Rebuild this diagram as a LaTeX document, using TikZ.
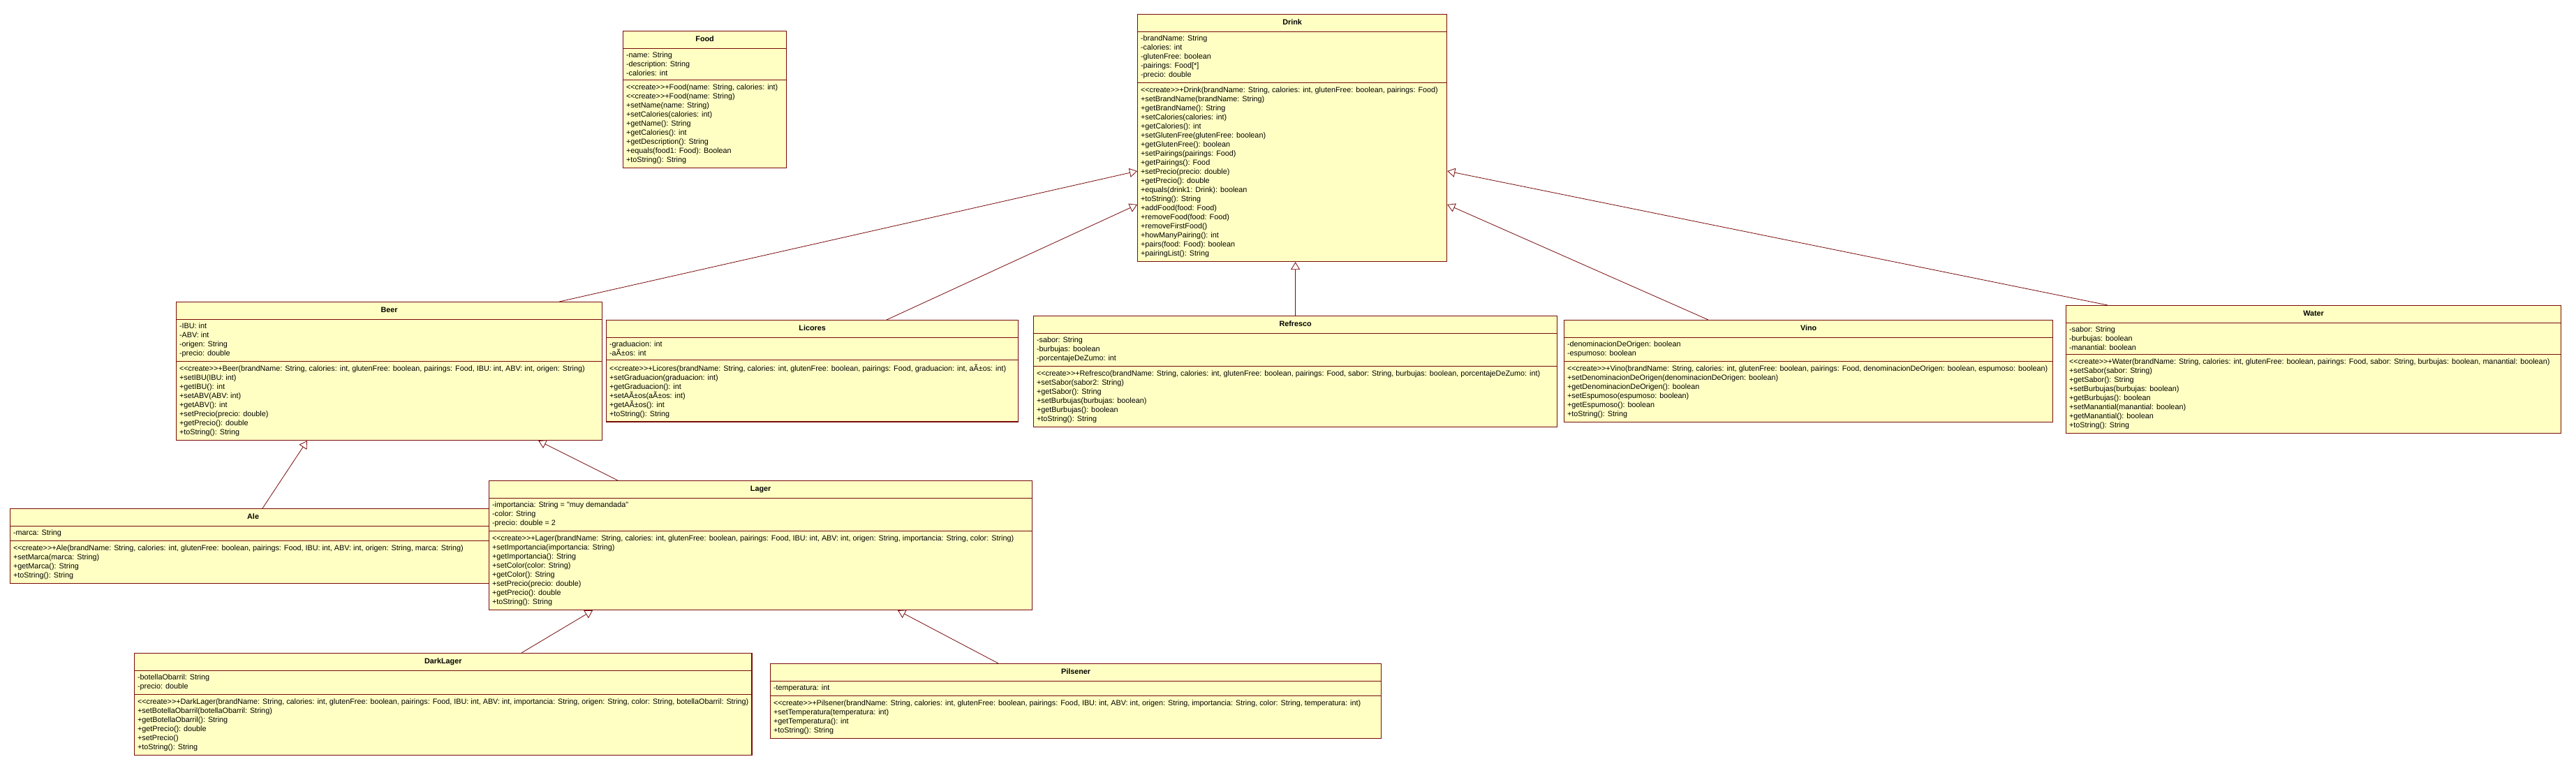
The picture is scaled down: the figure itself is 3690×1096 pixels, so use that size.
\documentclass[tikz,border=0pt]{standalone}
\usepackage{fontspec}
\setmainfont{Liberation Sans}[Ligatures=TeXOff]
\usetikzlibrary{shapes.multipart,arrows.meta}
\definecolor{umlfill}{RGB}{255,255,196}
\definecolor{umlline}{RGB}{120,10,10}
\newcommand{\umlcreate}{<{}<create>{}>}

\begin{document}
\begin{tikzpicture}[x=1pt, y=-1pt,
        cls/.style={rectangle split, rectangle split parts=3, rectangle split part align={center,left,left}, draw=umlline, line width=1.2pt, fill=umlfill, anchor=north west, align=left, inner xsep=4.5pt, inner ysep=5.2pt, font=\fontsize{10.8}{13}\selectfont},
        inherit/.style={draw=umlline, line width=0.8pt, -{Triangle[open, fill=white, length=11pt, width=13pt]}}
      ]
        \useasboundingbox (0,0) rectangle (3690,1096);

        \node[cls, minimum width=234pt] at (892,44) (food) {\strut\textbf{Food}
          \nodepart{two} -name: String\\-description: String\\-calories: int
          \nodepart{three} \umlcreate+Food(name: String, calories: int)\\\umlcreate+Food(name: String)\\+setName(name: String)\\+setCalories(calories: int)\\+getName(): String\\+getCalories(): int\\+getDescription(): String\\+equals(food1: Food): Boolean\\+toString(): String};

        \node[cls, minimum width=443pt] at (1629,20) (drink) {\strut\textbf{Drink}
          \nodepart{two} -brandName: String\\-calories: int\\-glutenFree: boolean\\-pairings: Food[*]\\-precio: double
          \nodepart{three} \umlcreate+Drink(brandName: String, calories: int, glutenFree: boolean, pairings: Food)\\+setBrandName(brandName: String)\\+getBrandName(): String\\+setCalories(calories: int)\\+getCalories(): int\\+setGlutenFree(glutenFree: boolean)\\+getGlutenFree(): boolean\\+setPairings(pairings: Food)\\+getPairings(): Food\\+setPrecio(precio: double)\\+getPrecio(): double\\+equals(drink1: Drink): boolean\\+toString(): String\\+addFood(food: Food)\\+removeFood(food: Food)\\+removeFirstFood()\\+howManyPairing(): int\\+pairs(food: Food): boolean\\+pairingList(): String};

        \node[cls, minimum width=610pt] at (252,432) (beer) {\strut\textbf{Beer}
          \nodepart{two} -IBU: int\\-ABV: int\\-origen: String\\-precio: double
          \nodepart{three} \umlcreate+Beer(brandName: String, calories: int, glutenFree: boolean, pairings: Food, IBU: int, ABV: int, origen: String)\\+setIBU(IBU: int)\\+getIBU(): int\\+setABV(ABV: int)\\+getABV(): int\\+setPrecio(precio: double)\\+getPrecio(): double\\+toString(): String};

        \node[cls, minimum width=590pt] at (868,458) (licores) {\strut\textbf{Licores}
          \nodepart{two} -graduacion: int\\-aÃ±os: int
          \nodepart{three} \umlcreate+Licores(brandName: String, calories: int, glutenFree: boolean, pairings: Food, graduacion: int, aÃ±os: int)\\+setGraduacion(graduacion: int)\\+getGraduacion(): int\\+setAÃ±os(aÃ±os: int)\\+getAÃ±os(): int\\+toString(): String};

        \node[cls, minimum width=750pt] at (1480,452) (refresco) {\strut\textbf{Refresco}
          \nodepart{two} -sabor: String\\-burbujas: boolean\\-porcentajeDeZumo: int
          \nodepart{three} \umlcreate+Refresco(brandName: String, calories: int, glutenFree: boolean, pairings: Food, sabor: String, burbujas: boolean, porcentajeDeZumo: int)\\+setSabor(sabor2: String)\\+getSabor(): String\\+setBurbujas(burbujas: boolean)\\+getBurbujas(): boolean\\+toString(): String};

        \node[cls, minimum width=700pt] at (2240,458) (vino) {\strut\textbf{Vino}
          \nodepart{two} -denominacionDeOrigen: boolean\\-espumoso: boolean
          \nodepart{three} \umlcreate+Vino(brandName: String, calories: int, glutenFree: boolean, pairings: Food, denominacionDeOrigen: boolean, espumoso: boolean)\\+setDenominacionDeOrigen(denominacionDeOrigen: boolean)\\+getDenominacionDeOrigen(): boolean\\+setEspumoso(espumoso: boolean)\\+getEspumoso(): boolean\\+toString(): String};

        \node[cls, minimum width=709pt] at (2959,437) (water) {\strut\textbf{Water}
          \nodepart{two} -sabor: String\\-burbujas: boolean\\-manantial: boolean
          \nodepart{three} \umlcreate+Water(brandName: String, calories: int, glutenFree: boolean, pairings: Food, sabor: String, burbujas: boolean, manantial: boolean)\\+setSabor(sabor: String)\\+getSabor(): String\\+setBurbujas(burbujas: boolean)\\+getBurbujas(): boolean\\+setManantial(manantial: boolean)\\+getManantial(): boolean\\+toString(): String};

        \node[cls, minimum width=696pt] at (14,728) (ale) {\strut\textbf{Ale}
          \nodepart{two} -marca: String
          \nodepart{three} \umlcreate+Ale(brandName: String, calories: int, glutenFree: boolean, pairings: Food, IBU: int, ABV: int, origen: String, marca: String)\\+setMarca(marca: String)\\+getMarca(): String\\+toString(): String};

        \node[cls, minimum width=778pt] at (700,688) (lager) {\strut\textbf{Lager}
          \nodepart{two} -importancia: String = "muy demandada"\\-color: String\\-precio: double = 2
          \nodepart{three} \umlcreate+Lager(brandName: String, calories: int, glutenFree: boolean, pairings: Food, IBU: int, ABV: int, origen: String, importancia: String, color: String)\\+setImportancia(importancia: String)\\+getImportancia(): String\\+setColor(color: String)\\+getColor(): String\\+setPrecio(precio: double)\\+getPrecio(): double\\+toString(): String};

        \node[cls, minimum width=869pt] at (192,935) (darklager) {\strut\textbf{DarkLager}
          \nodepart{two} -botellaObarril: String\\-precio: double
          \nodepart{three} \umlcreate+DarkLager(brandName: String, calories: int, glutenFree: boolean, pairings: Food, IBU: int, ABV: int, importancia: String, origen: String, color: String, botellaObarril: String)\\+setBotellaObarril(botellaObarril: String)\\+getBotellaObarril(): String\\+getPrecio(): double\\+setPrecio()\\+toString(): String};

        \node[cls, minimum width=875pt] at (1103,950) (pilsener) {\strut\textbf{Pilsener}
          \nodepart{two} -temperatura: int
          \nodepart{three} \umlcreate+Pilsener(brandName: String, calories: int, glutenFree: boolean, pairings: Food, IBU: int, ABV: int, origen: String, importancia: String, color: String, temperatura: int)\\+setTemperatura(temperatura: int)\\+getTemperatura(): int\\+toString(): String};

        % generalizations
        \draw[inherit] ([xshift=-62pt]beer.north east) -- ([yshift=-225pt]drink.north west);
        \draw[inherit] ([xshift=402pt]licores.north west) -- ([yshift=-273pt]drink.north west);
        \draw[inherit] (refresco.north) -- (refresco.north |- drink.south);
        \draw[inherit] ([xshift=207pt]vino.north west) -- ([yshift=-273pt]drink.north east);
        \draw[inherit] ([xshift=60pt]water.north west) -- ([yshift=-225pt]drink.north east);
        \draw[inherit] ([xshift=362pt]ale.north west) -- ([xshift=188pt]beer.south west);
        \draw[inherit] ([xshift=185pt]lager.north west) -- ([xshift=-92pt]beer.south east);
        \draw[inherit] ([xshift=555pt]darklager.north west) -- ([xshift=149pt]lager.south west);
        \draw[inherit] ([xshift=327pt]pilsener.north west) -- ([xshift=586pt]lager.south west);
      \end{tikzpicture}
\end{document}
